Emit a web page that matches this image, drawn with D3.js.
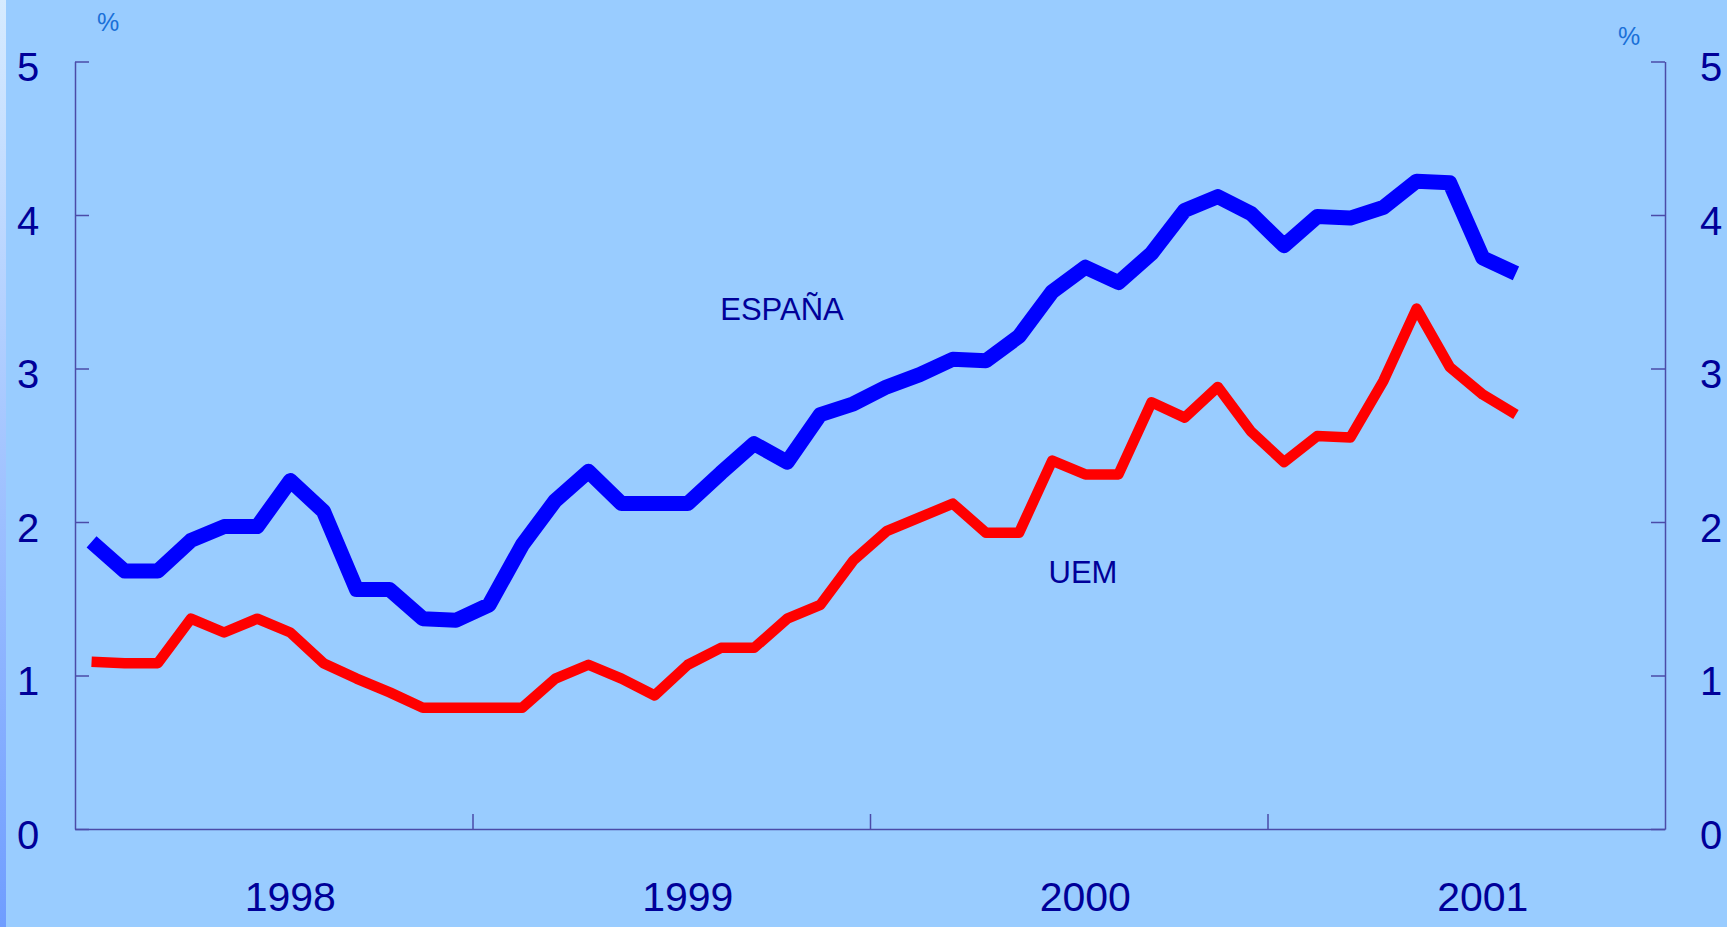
<!DOCTYPE html>
<html>
<head>
<meta charset="utf-8">
<script src="https://cdn.jsdelivr.net/npm/d3@7"></script>
<style>
  html, body { margin: 0; padding: 0; background: #99ccff; overflow: hidden; }
  svg { display: block; font-family: "Liberation Sans", Arial, sans-serif; }
</style>
</head>
<body>
<svg id="chart" width="1727" height="927"></svg>
<script>
// Monthly observations, Jan 1998 – Aug 2001
const months = [
  "1998-01","1998-02","1998-03","1998-04","1998-05","1998-06","1998-07","1998-08","1998-09","1998-10","1998-11","1998-12",
  "1999-01","1999-02","1999-03","1999-04","1999-05","1999-06","1999-07","1999-08","1999-09","1999-10","1999-11","1999-12",
  "2000-01","2000-02","2000-03","2000-04","2000-05","2000-06","2000-07","2000-08","2000-09","2000-10","2000-11","2000-12",
  "2001-01","2001-02","2001-03","2001-04","2001-05","2001-06","2001-07","2001-08"
];
const espana = [
  1.87, 1.68, 1.68, 1.88, 1.97, 1.97, 2.27, 2.07, 1.56, 1.56, 1.37, 1.36,
  1.46, 1.85, 2.14, 2.33, 2.12, 2.12, 2.12, 2.32, 2.51, 2.39, 2.70, 2.77,
  2.88, 2.96, 3.06, 3.05, 3.21, 3.50, 3.66, 3.56, 3.75, 4.03, 4.12, 4.01,
  3.80, 3.99, 3.98, 4.05, 4.22, 4.21, 3.72, 3.62
];
const uem = [
  1.09, 1.08, 1.08, 1.37, 1.28, 1.37, 1.28, 1.08, 0.98, 0.89, 0.79, 0.79,
  0.79, 0.79, 0.98, 1.07, 0.98, 0.87, 1.07, 1.18, 1.18, 1.37, 1.46, 1.75,
  1.94, 2.03, 2.12, 1.93, 1.93, 2.40, 2.31, 2.31, 2.78, 2.68, 2.88, 2.59,
  2.39, 2.56, 2.55, 2.92, 3.39, 3.01, 2.83, 2.70
];
const yearLabels = ["1998", "1999", "2000", "2001"];
const yTicks = [0, 1, 2, 3, 4, 5];

(function () {
const svg = d3.select("#chart");
const W = 1727, H = 927;

svg.append("rect").attr("width", W).attr("height", H).attr("fill", "#99ccff");
const defs = svg.append("defs");
const grad = defs.append("linearGradient").attr("id", "edge").attr("x1", 0).attr("y1", 0).attr("x2", 0).attr("y2", 1);
grad.append("stop").attr("offset", "0%").attr("stop-color", "#d6ebff");
grad.append("stop").attr("offset", "100%").attr("stop-color", "#6f9dff");
svg.append("rect").attr("x", 0).attr("y", 0).attr("width", 6).attr("height", H).attr("fill", "url(#edge)");

const pLeft = 75, pRight = 1665, pTop = 61.5, pBottom = 829;
const monthIndex = d => {
  const [yy, mm] = d.split("-").map(Number);
  return (yy - 1998) * 12 + (mm - 1);
};
const x = d3.scaleLinear().domain([-0.5, 47.5]).range([pLeft, pRight]);
const y = d3.scaleLinear().domain([0, 5]).range([pBottom, pTop]);

const axisColor = "#4b4ba8";
const labelColor = "#000099";

const gl = svg.append("g").attr("transform", `translate(${pLeft},0)`)
  .call(d3.axisRight(y).tickValues(yTicks).tickSize(14).tickSizeOuter(0).tickFormat(""));
const gr = svg.append("g").attr("transform", `translate(${pRight},0)`)
  .call(d3.axisLeft(y).tickValues(yTicks).tickSize(14).tickSizeOuter(0).tickFormat(""));
const yearBounds = [11.5, 23.5, 35.5];
const gb = svg.append("g").attr("transform", `translate(0,${pBottom})`)
  .call(d3.axisTop(x).tickValues(yearBounds).tickSize(15).tickSizeOuter(0).tickFormat(""));
[gl, gr, gb].forEach(g => {
  g.selectAll("path.domain").attr("stroke", axisColor).attr("stroke-width", 1.5);
  g.selectAll(".tick line").attr("stroke", axisColor).attr("stroke-width", 1.5);
});

svg.append("g").selectAll("text").data(yTicks).join("text")
  .attr("x", 28).attr("y", d => y(d) + 19.5)
  .attr("text-anchor", "middle").attr("font-size", 40).attr("fill", labelColor)
  .text(d => d);
svg.append("g").selectAll("text").data(yTicks).join("text")
  .attr("x", 1711).attr("y", d => y(d) + 19.5)
  .attr("text-anchor", "middle").attr("font-size", 40).attr("fill", labelColor)
  .text(d => d);

svg.append("g").selectAll("text").data(yearLabels).join("text")
  .attr("x", (d, i) => x(i * 12 + 6))
  .attr("y", 911)
  .attr("text-anchor", "middle").attr("font-size", 41).attr("fill", labelColor)
  .text(d => d);

svg.append("text").attr("x", 108).attr("y", 31).attr("text-anchor", "middle")
  .attr("font-size", 25).attr("fill", "#1a70d8").text("%");
svg.append("text").attr("x", 1629).attr("y", 45).attr("text-anchor", "middle")
  .attr("font-size", 25).attr("fill", "#1a70d8").text("%");

const line = d3.line().x(d => x(monthIndex(d.m))).y(d => y(d.v));
const esData = months.map((m, i) => ({ m, v: espana[i] }));
const ueData = months.map((m, i) => ({ m, v: uem[i] }));

svg.append("path").datum(ueData).attr("d", line)
  .attr("fill", "none").attr("stroke", "#ff0000").attr("stroke-width", 10.5)
  .attr("stroke-linejoin", "round").attr("stroke-linecap", "butt");
svg.append("path").datum(esData).attr("d", line)
  .attr("fill", "none").attr("stroke", "#0000ff").attr("stroke-width", 15)
  .attr("stroke-linejoin", "round").attr("stroke-linecap", "butt");

svg.append("text").attr("x", 782).attr("y", 320).attr("text-anchor", "middle")
  .attr("font-size", 31).attr("fill", labelColor).text("ESPAÑA");
svg.append("text").attr("x", 1083).attr("y", 582.5).attr("text-anchor", "middle")
  .attr("font-size", 31).attr("fill", labelColor).text("UEM");
})();
</script>
</body>
</html>
